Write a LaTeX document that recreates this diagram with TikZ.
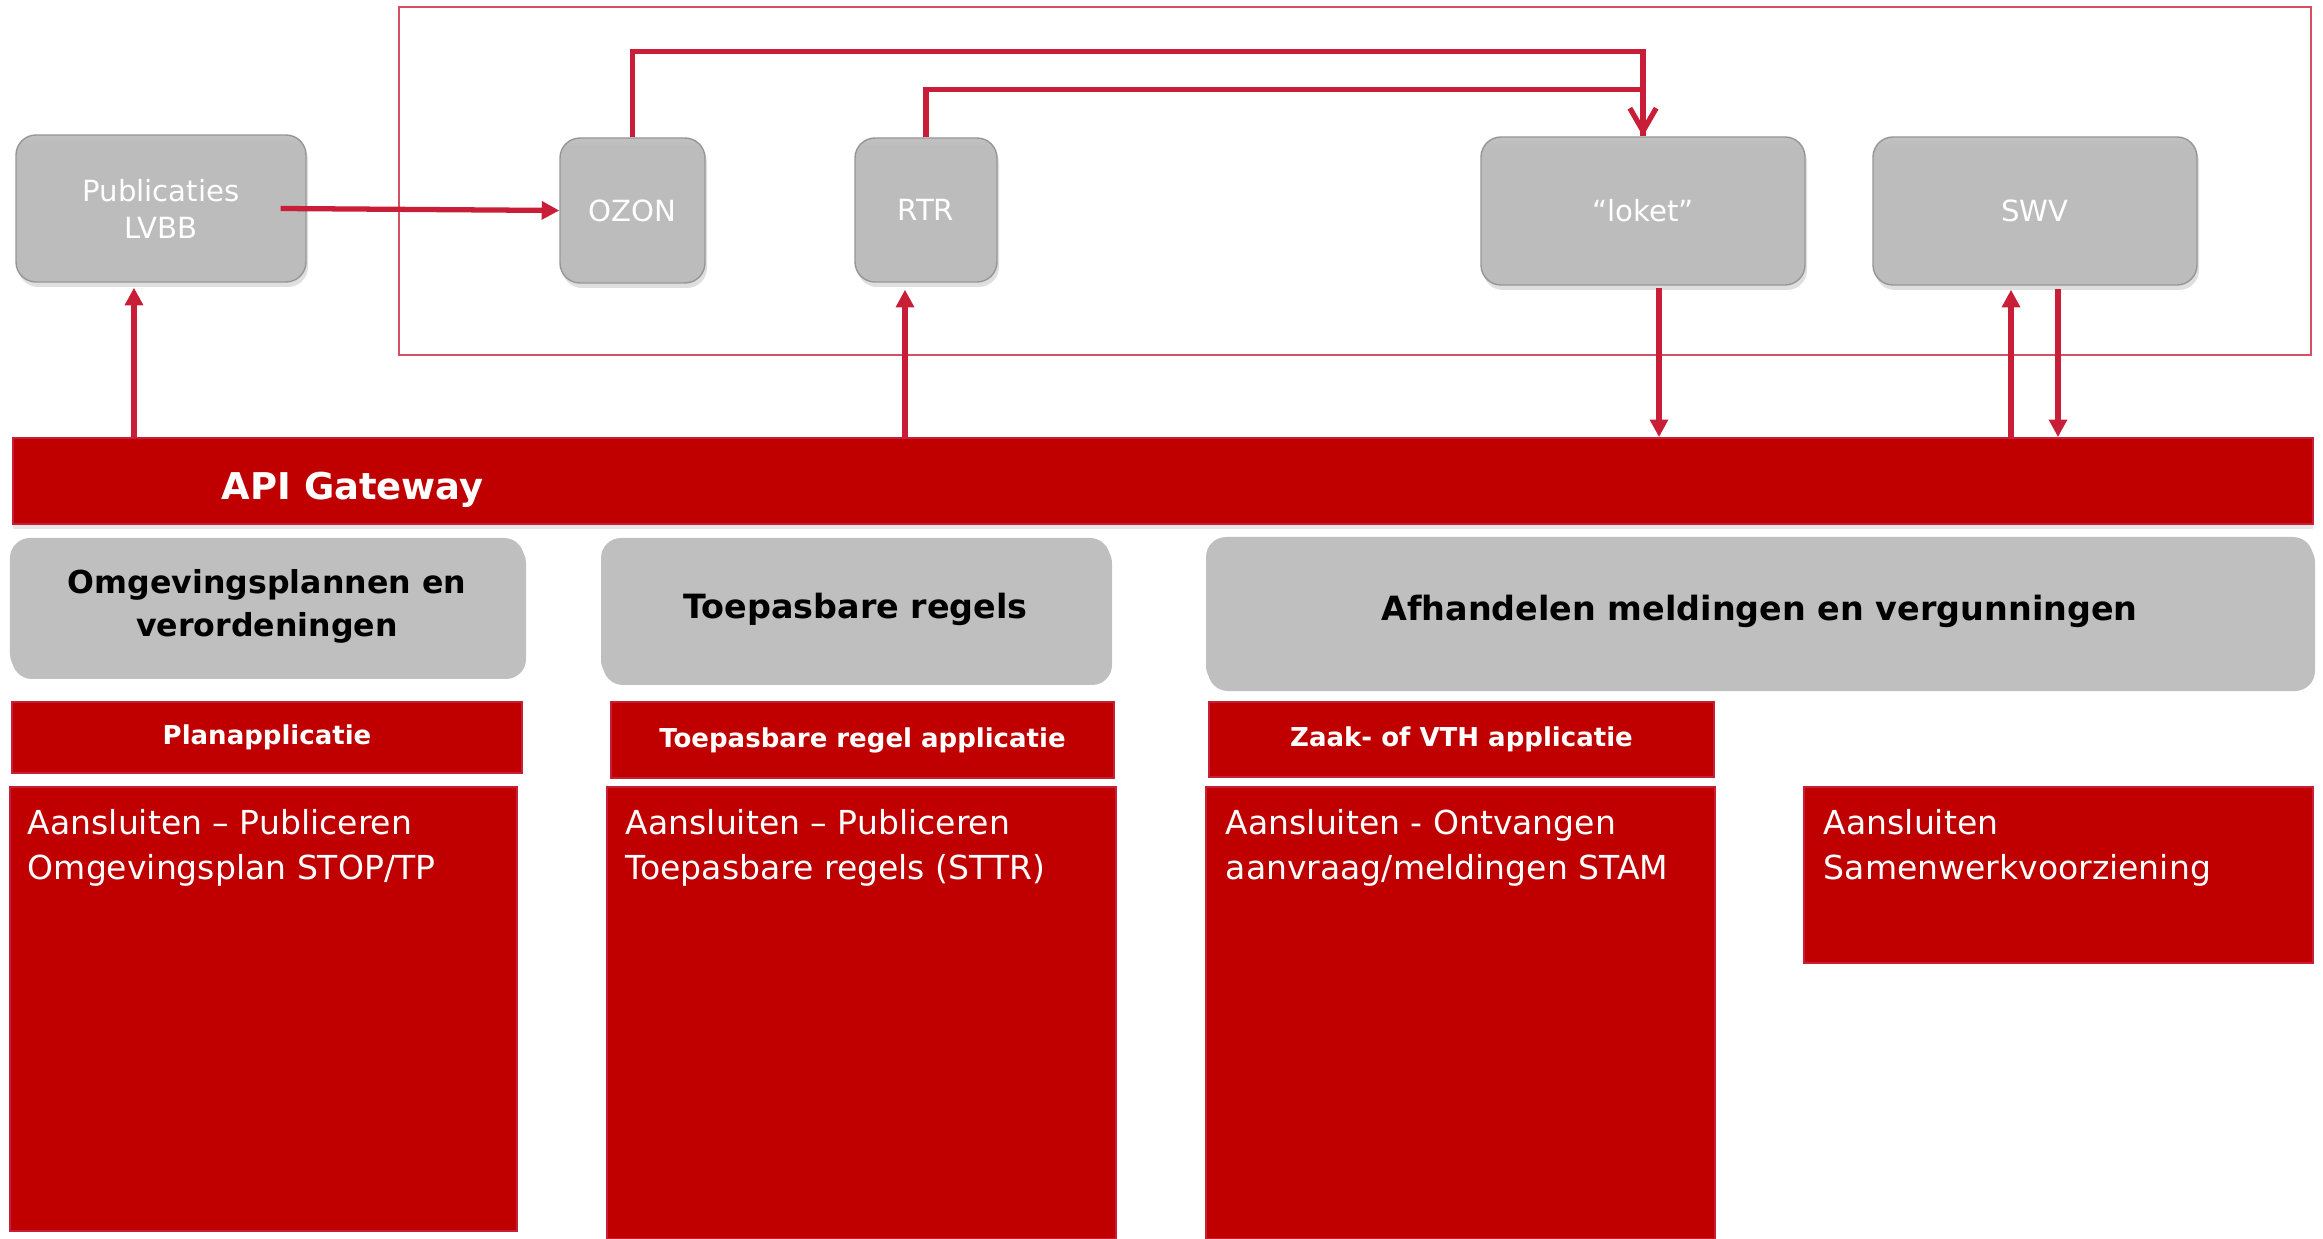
\documentclass[tikz,border=0pt]{standalone}
\usepackage{fontspec}
\setmainfont{DejaVu Sans}
\usetikzlibrary{positioning, arrows.meta, shadows}

\definecolor{gatewayred}{RGB}{192,0,0}
\definecolor{flowred}{RGB}{200,30,55}
\definecolor{framered}{RGB}{214,80,100}
\definecolor{boxgrey}{RGB}{188,188,188}
\definecolor{edgegrey}{RGB}{150,150,150}
\definecolor{bargrey}{RGB}{191,191,191}

\pgfdeclareverticalshading{bevel}{100bp}{color(0bp)=(boxgrey!92!black); color(6bp)=(boxgrey); color(72bp)=(boxgrey);
                                         color(88bp)=(white!45!boxgrey); color(100bp)=(white!70!boxgrey)}

\tikzstyle{appbox}    = [rectangle, rounded corners=0.2cm, draw=edgegrey, line width=0.4pt, shading=bevel,
                         text=white, align=center, font=\fontsize{8.3}{10.5}\selectfont,
                         drop shadow={shadow xshift=0.02cm, shadow yshift=-0.05cm, opacity=0.25}]
\tikzstyle{domainbar} = [rectangle, rounded corners=0.2cm, fill=bargrey, align=center,
                         drop shadow={shadow xshift=0.02cm, shadow yshift=-0.05cm, opacity=0.5}]
\tikzstyle{gateway}   = [rectangle, fill=gatewayred, draw=flowred, line width=0.5pt,
                         drop shadow={shadow xshift=0cm, shadow yshift=-0.05cm, opacity=0.2}]
\tikzstyle{apptitle}  = [rectangle, fill=gatewayred, draw=flowred, line width=0.5pt, text=white,
                         font=\bfseries\fontsize{7.4}{9}\selectfont]
\tikzstyle{taskbox}   = [rectangle, fill=gatewayred, draw=flowred, line width=0.5pt]
\tikzstyle{tasktext}  = [inner sep=0pt, text=white, align=left, font=\fontsize{9.4}{12.8}\selectfont]
\tikzstyle{flow}      = [draw=flowred, line width=1.5pt, -{Triangle[length=5pt, width=5pt]}]
\tikzstyle{flowline}  = [draw=flowred, line width=1.5pt]

\begin{document}
\begin{tikzpicture}
    \useasboundingbox (0,0) rectangle (23.23,-12.39);
    % landelijke voorzieningen
    \draw[framered, line width=0.45pt] (3.99,-0.07) rectangle (23.11,-3.55);
    \node (lvbb)  [appbox, minimum width=2.90cm, minimum height=1.47cm] at (1.61,-2.085)  {Publicaties\\LVBB};
    \node (ozon)  [appbox, minimum width=1.45cm, minimum height=1.45cm] at (6.325,-2.105) {OZON};
    \node (rtr)   [appbox, minimum width=1.42cm, minimum height=1.44cm] at (9.26,-2.10)   {RTR};
    \node (loket) [appbox, minimum width=3.24cm, minimum height=1.48cm] at (16.43,-2.11)  {“loket”};
    \node (swv)   [appbox, minimum width=3.24cm, minimum height=1.48cm] at (20.35,-2.11)  {SWV};

    % gateway
    \node (api)      [gateway, minimum width=23.00cm, minimum height=0.86cm] at (11.63,-4.81) {};
    \node (apilabel) [right=2.09cm of api.west, yshift=-0.09cm, inner sep=0pt, text=white,
                      font=\bfseries\fontsize{10.5}{12}\selectfont] {API Gateway};

    % domeinen
    \node (plannen)    [domainbar, minimum width=5.14cm, minimum height=1.36cm, font=\bfseries\fontsize{9}{12.2}\selectfont]
                       at (2.67,-6.06)    {Omgevingsplannen en\\verordeningen};
    \node (regels)     [domainbar, minimum width=5.09cm, minimum height=1.42cm, font=\bfseries\fontsize{9.5}{12}\selectfont]
                       at (8.555,-6.09)   {Toepasbare regels};
    \node (afhandelen) [domainbar, minimum width=11.07cm, minimum height=1.49cm, font=\bfseries\fontsize{9.5}{12}\selectfont]
                       at (17.595,-6.115) {Afhandelen meldingen en vergunningen};

    % applicaties
    \node (planapp)  [apptitle, minimum width=5.10cm, minimum height=0.71cm] at (2.67,-7.375)   {Planapplicatie};
    \node (regelapp) [apptitle, minimum width=5.03cm, minimum height=0.76cm] at (8.625,-7.40)   {Toepasbare regel applicatie};
    \node (zaakapp)  [apptitle, minimum width=5.05cm, minimum height=0.75cm] at (14.615,-7.395) {Zaak- of VTH applicatie};

    % aansluitingen
    \node (plantask)  [taskbox, minimum width=5.07cm, minimum height=4.44cm] at (2.635,-10.09)  {};
    \node (regeltask) [taskbox, minimum width=5.09cm, minimum height=4.52cm] at (8.615,-10.13)  {};
    \node (zaaktask)  [taskbox, minimum width=5.09cm, minimum height=4.52cm] at (14.605,-10.13) {};
    \node (swvtask)   [taskbox, minimum width=5.09cm, minimum height=1.76cm] at (20.585,-8.75)  {};
    \node (plantxt)  [tasktext, below right=0.23cm and 0.18cm of plantask.north west]  {Aansluiten – Publiceren\\Omgevingsplan STOP/TP};
    \node (regeltxt) [tasktext, below right=0.23cm and 0.19cm of regeltask.north west] {Aansluiten – Publiceren\\Toepasbare regels (STTR)};
    \node (zaaktxt)  [tasktext, below right=0.23cm and 0.20cm of zaaktask.north west]  {Aansluiten - Ontvangen\\aanvraag/meldingen STAM};
    \node (swvtxt)   [tasktext, below right=0.23cm and 0.20cm of swvtask.north west]   {Aansluiten\\Samenwerkvoorziening};

    % koppelpunten
    \coordinate (lvbbin)   at ([xshift=-0.27cm, yshift=-0.05cm]lvbb.south);
    \coordinate (rtrin)    at ([xshift=-0.21cm, yshift=-0.07cm]rtr.south);
    \coordinate (loketout) at ([xshift=0.16cm, yshift=-0.02cm]loket.south);
    \coordinate (swvin)    at ([xshift=-0.24cm, yshift=-0.04cm]swv.south);
    \coordinate (swvout)   at ([xshift=0.23cm, yshift=-0.03cm]swv.south);

    \draw[flow]     ([xshift=-0.26cm]lvbb.east) -- (ozon.west);
    \draw[flowline] (rtr.north)  -- ++(0,0.48) -| (loket.north);
    \draw[flowline, -{Straight Barb[length=6.5pt, width=7.5pt]}]
                    (ozon.north) -- ++(0,0.86) -| (loket.north);
    \draw[flow]     (lvbbin |- api.north)  -- (lvbbin);
    \draw[flow]     (rtrin |- api.north)   -- (rtrin);
    \draw[flow]     (loketout) -- (loketout |- api.north);
    \draw[flow]     (swvin |- api.north)   -- (swvin);
    \draw[flow]     (swvout)   -- (swvout |- api.north);
\end{tikzpicture}
\end{document}
